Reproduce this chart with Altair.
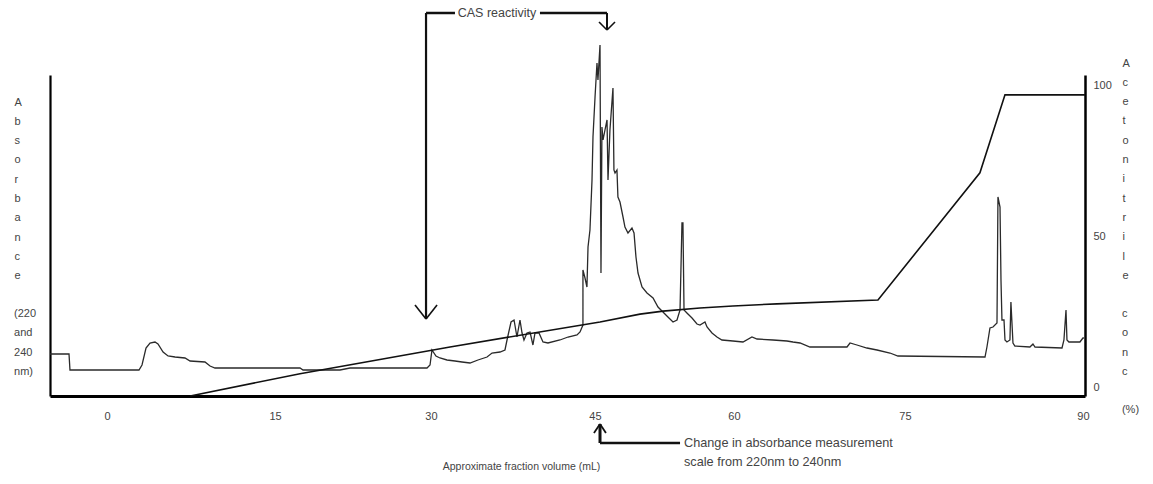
import altair as alt
import pandas as pd

FONT = "Liberation Sans"
TXT = "#444444"

# ---- data ----
# fraction volume (mL) and absorbance (arbitrary units, left axis has no scale)
trace_ml = [-5.28, -3.52, -3.43, 2.96, 3.24, 3.61, 3.98, 4.44, 4.72, 5.19, 5.65, 6.30, 7.22, 7.69,
            9.07, 9.54, 10.0, 17.87, 18.15, 21.57, 22.5, 29.63, 29.91, 30.09, 30.46, 30.83, 31.48,
            32.22, 32.87, 33.61, 34.35, 35.19, 35.65, 36.39, 36.85, 37.04, 37.41, 37.69, 37.96,
            38.24, 38.43, 38.61, 38.89, 39.17, 39.44, 39.63, 40.0, 40.37, 40.83, 41.94, 42.69,
            43.52, 43.80, 44.07, 44.07, 44.26, 44.44, 44.54, 44.72, 44.91, 45.0, 45.19, 45.37,
            45.46, 45.65, 45.74, 45.83, 45.93, 46.11, 46.30, 46.39, 46.57, 46.85, 46.94, 47.04,
            47.22, 47.31, 47.50, 47.78, 47.96, 48.24, 48.61, 48.80, 48.98, 49.17, 49.54, 50.0,
            50.56, 51.02, 51.48, 51.94, 52.41, 52.78, 53.06, 53.24, 53.33, 53.43, 53.70, 54.17,
            54.63, 54.91, 55.37, 55.56, 56.02, 56.48, 56.94, 57.96, 58.89, 59.72, 60.19, 61.67,
            62.96, 63.52, 64.17, 65.09, 66.67, 68.52, 68.80, 69.44, 70.37, 71.30, 72.50, 73.24,
            81.30, 81.48, 81.76, 82.04, 82.41, 82.50, 82.69, 82.78, 82.87, 83.06, 83.15, 83.33,
            83.61, 83.70, 83.89, 84.07, 85.46, 85.74, 85.93, 88.43, 88.61, 88.80, 88.89, 89.07,
            90.09, 90.37, 90.46]
trace_abs = [42, 42, 26, 26, 31, 48, 53, 54, 52, 44, 40, 39, 38, 35,
             34, 30, 28, 28, 26, 26, 28, 28, 31, 46, 40, 38, 36,
             35, 34, 33, 36, 39, 43, 44, 46, 56, 74, 76, 59,
             76, 63, 56, 63, 64, 51, 63, 63, 54, 53, 56, 59,
             61, 64, 71, 126, 118, 109, 149, 166, 216, 259, 299, 333,
             316, 351, 123, 269, 256, 266, 276, 216, 266, 308, 226, 223,
             226, 199, 194, 179, 169, 163, 168, 163, 139, 123, 109, 103,
             98, 89, 84, 79, 74, 76, 86, 173, 173, 86, 83, 78,
             72, 71, 74, 69, 63, 59, 56, 55, 54, 59, 57, 56,
             55, 54, 53, 49, 49, 49, 53, 51, 48, 46, 43, 40,
             39, 49, 68, 69, 73, 199, 189, 116, 76, 76, 56, 54,
             56, 94, 53, 50, 49, 52, 49, 48, 56, 86, 56, 54,
             54, 58, 58]

# acetonitrile gradient (%)
grad_ml = [7.7, 17.87, 31.76, 45.65, 49.35, 51.48, 54.91, 57.96, 62.04, 71.39, 80.83, 83.15, 90.56]
grad_pct = [0.0, 7.4, 16.3, 24.6, 27.2, 28.2, 29.2, 29.9, 30.6, 31.9, 74.1, 100.0, 100.0]

x_ticks = [0, 15, 30, 45, 60, 75, 90]
right_ticks = [0, 50, 100]

# stacked axis titles: first block as the axis title, the rest as side text lines
left_title = ["A", "b", "s", "o", "r", "b", "a", "n", "c", "e"]
right_title = ["A", "c", "e", "t", "o", "n", "i", "t", "r", "i", "l", "e"]
side_text = ["(220", "and", "240", "nm)", "c", "o", "n", "c", "(%)"]
side_x = [-8.61, -8.61, -8.61, -8.61, 93.98, 93.98, 93.98, 93.98, 93.98]
side_y = [82, 62.7, 43.4, 24.1, 82.1, 62.8, 43.5, 24.2, -14.4]
x_title = "Approximate fraction volume (mL)"

# annotation segments (in mL / absorbance units)
seg_x1 = [29.54, 40.09, 29.54, 28.52, 30.56, 46.30, 45.56, 47.04, 45.65, 45.65, 45.09, 46.20]
seg_x2 = [32.22, 46.30, 29.54, 29.54, 29.54, 46.30, 46.30, 46.30, 45.65, 53.06, 45.65, 45.65]
seg_y1 = [383, 383, 383, 91, 91, 383, 374, 374, -47, -47, -37, -37]
seg_y2 = [383, 383, 77, 77, 77, 366, 366, 366, -28, -47, -28, -28]
seg_w = [2.5, 2.5, 2.2, 1.6, 1.6, 2.0, 1.6, 1.6, 3.0, 2.5, 1.8, 1.8]

note_text = ["CAS reactivity", "Change in absorbance measurement", "scale from 220nm to 240nm"]
note_x = [36.11, 53.43, 53.43]
note_y = [383, -47, -66]
note_align = ["center", "left", "left"]

# ---- build ----
trace_df = pd.DataFrame({"ml": trace_ml, "abs": trace_abs, "i": range(len(trace_ml))})
grad_df = pd.DataFrame({"ml": grad_ml, "pct": grad_pct, "i": range(len(grad_ml))})
seg_df = pd.DataFrame({"ml": seg_x1, "ml2": seg_x2, "abs": seg_y1, "abs2": seg_y2, "w": seg_w})
note_df = pd.DataFrame({"ml": note_x, "abs": note_y, "t": note_text, "a": note_align})
side_df = pd.DataFrame({"ml": side_x, "abs": side_y, "t": side_text})

xscale = alt.Scale(domain=[-5.28, 90.56], nice=False, zero=False)
yscale_abs = alt.Scale(domain=[0, 321], nice=False, zero=False)
yscale_pct = alt.Scale(domain=[0, 106.6], nice=False, zero=False)

# the printed tick labels sit slightly off an even spacing in the original
x_label_shift = {"expr": "datum.value == 15 ? 6 : datum.value == 45 ? 2 : datum.value == 60 ? -21 : "
                         "datum.value == 75 ? -12 : datum.value == 90 ? 4 : 0"}

x_axis = alt.Axis(values=x_ticks, ticks=False, tickSize=0, grid=False, domainColor="black",
                  domainWidth=3.2, labelPadding=14, labelFontSize=11, labelFont=FONT,
                  labelColor=TXT, labelOffset=x_label_shift,
                  title=x_title, titleFont=FONT, titleFontSize=10.5,
                  titleFontWeight="normal", titleColor=TXT, titleX=471, titleY=70,
                  titleAlign="center", titleBaseline="middle")
y_axis_left = alt.Axis(ticks=False, tickSize=0, labels=False, grid=False, domainColor="black",
                       domainWidth=2.2, title=left_title, titleAngle=0, titleAlign="left",
                       titleBaseline="top", titleX=-36, titleY=21, titleLineHeight=19.3,
                       titleFont=FONT, titleFontSize=11, titleFontWeight="normal", titleColor=TXT)
y_axis_right = alt.Axis(orient="right", values=right_ticks, ticks=False, tickSize=0, grid=False,
                        domainColor="black", domainWidth=2.5, labelPadding=8, labelOffset=-9,
                        labelFont=FONT, labelFontSize=11, labelColor=TXT,
                        title=right_title, titleAngle=0, titleAlign="left", titleBaseline="top",
                        titleX=37, titleY=-18, titleLineHeight=19.3, titleFont=FONT,
                        titleFontSize=11, titleFontWeight="normal", titleColor=TXT)

X = alt.X("ml:Q", scale=xscale, axis=x_axis)
Y = alt.Y("abs:Q", scale=yscale_abs, axis=y_axis_left)

trace = alt.Chart(trace_df).mark_line(color="#2a2a2a", strokeWidth=1.3).encode(
    x=X, y=Y, order=alt.Order("i:Q"),
)
segs = alt.Chart(seg_df).mark_rule(color="#111111").encode(
    x=X, x2="ml2:Q", y=Y, y2="abs2:Q",
    strokeWidth=alt.StrokeWidth("w:Q", scale=None),
)
notes_c = alt.Chart(note_df[note_df.a == "center"]).mark_text(
    font=FONT, fontSize=12.5, color=TXT, align="center", baseline="middle"
).encode(x=X, y=Y, text="t:N")
notes_l = alt.Chart(note_df[note_df.a == "left"]).mark_text(
    font=FONT, fontSize=12.7, color=TXT, align="left", baseline="middle"
).encode(x=X, y=Y, text="t:N")
side = alt.Chart(side_df).mark_text(
    font=FONT, fontSize=11, color=TXT, align="left", baseline="middle"
).encode(x=X, y=Y, text="t:N")
grad = alt.Chart(grad_df).mark_line(color="#111111", strokeWidth=1.6).encode(
    x=X,
    y=alt.Y("pct:Q", scale=yscale_pct, axis=y_axis_right),
    order=alt.Order("i:Q"),
)

inner = alt.layer(trace, segs, notes_c, notes_l, side)
chart = alt.layer(inner, grad).resolve_scale(y="independent").properties(
    width=1035, height=321,
    autosize=alt.AutoSizeParams(type="none"),
    padding={"left": 50, "top": 75, "right": 68, "bottom": 88},
    background="white",
).configure_view(stroke=None)

chart.save("out.html", embed_options={"renderer": "svg", "actions": False})
